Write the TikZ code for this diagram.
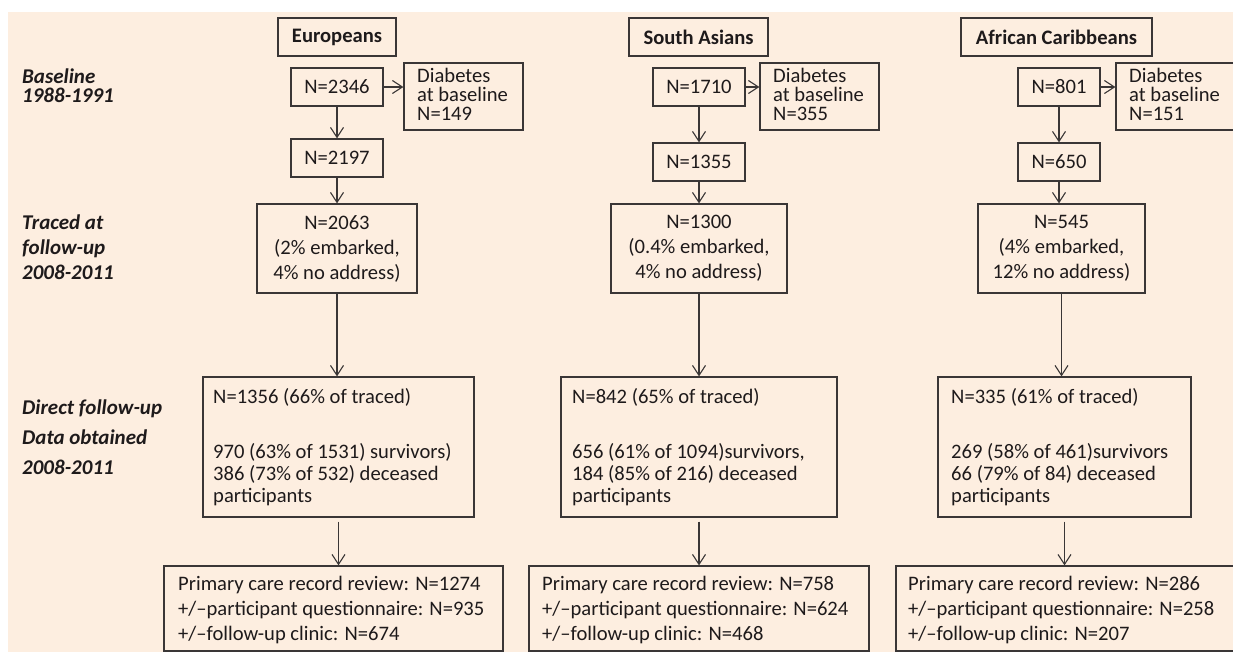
\documentclass[tikz,border=0pt]{standalone}
\usepackage{fontspec}
\setmainfont{Carlito}
\usetikzlibrary{arrows.meta}
\definecolor{bg}{HTML}{FDEEE0}
\definecolor{ink}{HTML}{1E1A1B}
\definecolor{edge}{HTML}{3A3636}
\begin{document}
\begin{tikzpicture}[x=1pt,y=-1pt,
  every node/.style={text=ink, font=\fontsize{20.6}{25}\selectfont},
  box/.style={draw=edge, line width=1.2pt, rectangle, inner sep=0pt},
  hdr/.style={box, minimum height=38, font=\fontsize{20.6}{25}\selectfont\bfseries},
  cbox/.style={box, align=center},
  ltext/.style={anchor=west, align=left, inner sep=0pt},
  tight/.style={ltext, font=\fontsize{20.6}{19}\selectfont},
  mid/.style={ltext, font=\fontsize{20.6}{22}\selectfont},
  lbl/.style={anchor=west, align=left, inner sep=0pt},
  arr/.style={draw=edge, line width=1.1pt, -{Straight Barb[length=10pt,width=13pt,line width=1.1pt]}}
]
\useasboundingbox (0,0) rectangle (1233,654);
\clip (0,0) rectangle (1233,654);
\fill[white] (0,0) rectangle (1233,654);
\fill[bg] (8,12) rectangle (1240,652);

% row labels
\node[lbl, font=\fontsize{21}{19}\selectfont\bfseries\itshape] (lb) at (22,86) {Baseline\\1988-1991};
\node[lbl, font=\fontsize{21}{25}\selectfont\bfseries\itshape] (lt) at (22,247) {Traced at\\follow-up\\2008-2011};
\node[lbl, font=\fontsize{21}{30}\selectfont\bfseries\itshape] (ld) at (22,437) {Direct follow-up\\Data obtained\\2008-2011};

% ---------- Europeans ----------
\node[hdr, minimum width=118] (eH) at (337,37) {Europeans};
\node[box, minimum width=92, minimum height=38] (e1) at (337,87) {N=2346};
\node[box, minimum width=119, minimum height=67] (eDb) at (463.5,96.5) {};
\node[tight] (eD) at (417,94) {Diabetes\\at baseline\\N=149};
\node[box, minimum width=92, minimum height=38] (e2) at (337,158) {N=2197};
\node[cbox, minimum width=160, minimum height=89] (e3) at (337,248.5) {N=2063\\(2\% embarked,\\4\% no address)};
\node[box, minimum width=271, minimum height=140] (e4b) at (338.5,447) {};
\node[mid] (e4) at (213,447) {N=1356 (66\% of traced)\\[33pt]970 (63\% of 1531) survivors)\\386 (73\% of 532) deceased\\participants};
\node[box, minimum width=339, minimum height=85] (e5b) at (333.5,608.5) {};
\node[ltext] (e5) at (178,610) {Primary care record review: N=1274\\+/–participant questionnaire: N=935\\+/–follow-up clinic: N=674};

% ---------- South Asians ----------
\node[hdr, minimum width=139] (sH) at (698.5,37) {South Asians};
\node[box, minimum width=92, minimum height=38] (s1) at (699,87) {N=1710};
\node[box, minimum width=119, minimum height=67] (sDb) at (819.5,96.5) {};
\node[tight] (sD) at (773,94) {Diabetes\\at baseline\\N=355};
\node[box, minimum width=92, minimum height=38] (s2) at (699,162) {N=1355};
\node[cbox, minimum width=176, minimum height=89] (s3) at (699,248.5) {N=1300\\(0.4\% embarked,\\4\% no address)};
\node[box, minimum width=276, minimum height=140] (s4b) at (699,447) {};
\node[mid] (s4) at (572,447) {N=842 (65\% of traced)\\[33pt]656 (61\% of 1094)survivors,\\184 (85\% of 216) deceased\\participants};
\node[box, minimum width=340, minimum height=85] (s5b) at (699,608.5) {};
\node[ltext] (s5) at (542,610) {Primary care record review: N=758\\+/–participant questionnaire: N=624\\+/–follow-up clinic: N=468};

% ---------- African Caribbeans ----------
\node[hdr, minimum width=191] (aH) at (1056.5,37) {African Caribbeans};
\node[box, minimum width=82, minimum height=38] (a1) at (1059,87) {N=801};
\node[box, minimum width=129, minimum height=67] (aDb) at (1180.5,96.5) {};
\node[tight] (aD) at (1129,94) {Diabetes\\at baseline\\N=151};
\node[box, minimum width=82, minimum height=38] (a2) at (1059,162) {N=650};
\node[cbox, minimum width=167, minimum height=89] (a3) at (1061.5,248.5) {N=545\\(4\% embarked,\\12\% no address)};
\node[box, minimum width=253, minimum height=140] (a4b) at (1064.5,447) {};
\node[mid] (a4) at (951,447) {N=335 (61\% of traced)\\[33pt]269 (58\% of 461)survivors\\66 (79\% of 84) deceased\\participants};
\node[box, minimum width=354, minimum height=85] (a5b) at (1073,608.5) {};
\node[ltext] (a5) at (908,610) {Primary care record review: N=286\\+/–participant questionnaire: N=258\\+/–follow-up clinic: N=207};

% ---------- connectors ----------
\foreach \c in {e,s,a}{
  \draw[arr] (\c1.east) -- (\c1.east -| \c Db.west);
  \draw[arr] (\c1.south) -- (\c2.north);
  \draw[arr] (\c2.south) -- (\c2.south |- \c3.north);
  \draw[arr] (\c3.south) -- (\c3.south |- \c4b.north);
  \draw[arr, shorten <=4pt] (\c4b.south) -- (\c4b.south |- \c5b.north);
}
\end{tikzpicture}
\end{document}
